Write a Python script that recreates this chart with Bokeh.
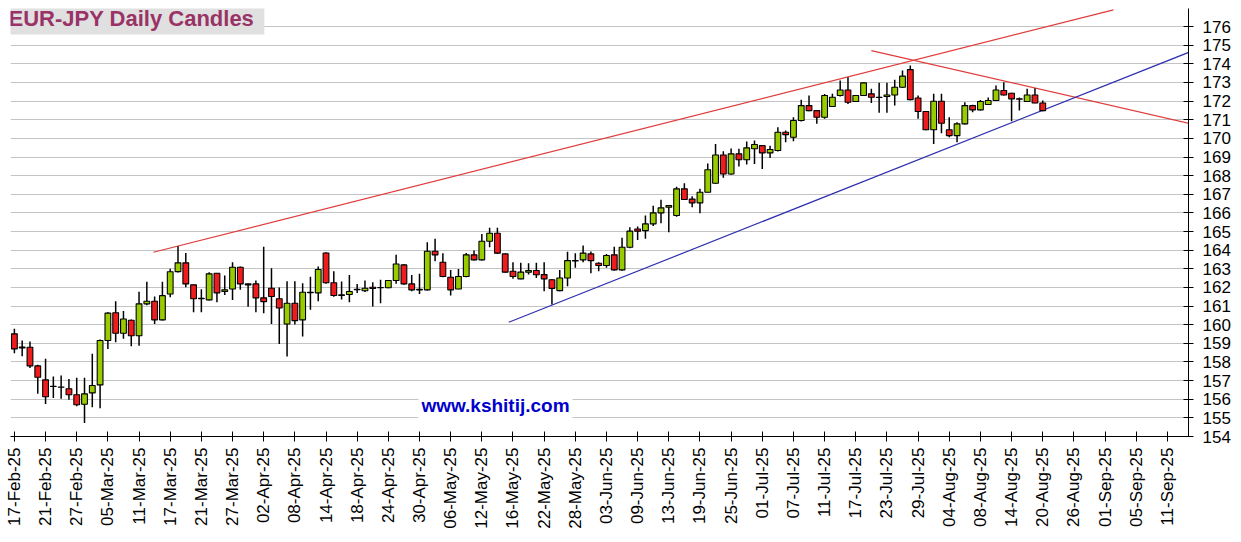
import math
from bokeh.plotting import figure
from bokeh.models import FixedTicker, Label, Range1d, ColumnDataSource
from bokeh.embed import file_html
from bokeh.resources import INLINE

# ---------------- data ----------------
tick_labels = ["17-Feb-25", "21-Feb-25", "27-Feb-25", "05-Mar-25", "11-Mar-25", "17-Mar-25",
               "21-Mar-25", "27-Mar-25", "02-Apr-25", "08-Apr-25", "14-Apr-25", "18-Apr-25",
               "24-Apr-25", "30-Apr-25", "06-May-25", "12-May-25", "16-May-25", "22-May-25",
               "28-May-25", "03-Jun-25", "09-Jun-25", "13-Jun-25", "19-Jun-25", "25-Jun-25",
               "01-Jul-25", "07-Jul-25", "11-Jul-25", "17-Jul-25", "23-Jul-25", "29-Jul-25",
               "04-Aug-25", "08-Aug-25", "14-Aug-25", "20-Aug-25", "26-Aug-25", "01-Sep-25",
               "05-Sep-25", "11-Sep-25"]
tick_every = 4  # trading days between labelled ticks

opens = [
    159.51, 158.80, 158.79, 157.79, 157.04, 156.70, 156.66, 156.56, 156.24, 155.73,
    156.34, 156.77, 159.15, 160.64, 159.54, 160.24, 159.41, 161.12, 161.26, 160.26,
    161.65, 162.85, 163.32, 162.14, 161.42, 161.33, 162.76, 161.78, 161.92, 163.08,
    162.14, 162.19, 161.44, 161.96, 161.39, 160.04, 161.15, 160.26, 161.74, 161.71,
    163.85, 162.25, 161.60, 161.62, 161.90, 161.82, 162.01, 162.00, 161.98, 162.37,
    163.21, 162.19, 161.90, 161.87, 163.94, 163.35, 162.55, 161.92, 162.59, 163.75,
    163.48, 164.48, 164.91, 163.80, 162.87, 162.46, 162.82, 162.91, 162.69, 162.41,
    161.83, 162.51, 163.44, 163.48, 163.80, 163.30, 163.18, 163.75, 162.94, 164.16,
    165.14, 165.05, 165.41, 166.00, 166.30, 165.86, 167.29, 166.74, 166.54, 167.11,
    167.59, 169.11, 168.09, 169.17, 168.85, 169.44, 169.61, 169.22, 169.35, 170.33,
    170.06, 170.96, 171.76, 171.49, 171.13, 171.71, 172.30, 172.60, 171.98, 172.30,
    172.39, 172.21, 172.25, 172.33, 172.74, 173.69, 172.17, 171.44, 170.46, 171.99,
    170.46, 170.15, 170.78, 171.76, 171.53, 171.82, 172.03, 172.57, 172.42, 172.12,
    171.98, 172.33, 171.90]

closes = [
    158.70, 158.75, 157.79, 157.18, 156.13, 156.68, 156.64, 156.24, 155.70, 156.29,
    156.74, 159.15, 160.62, 159.54, 160.31, 159.41, 161.12, 161.26, 160.26, 161.56,
    162.84, 163.32, 162.19, 161.39, 161.40, 162.73, 161.71, 161.87, 163.08, 162.19,
    162.19, 161.44, 161.24, 161.51, 160.90, 161.15, 160.22, 161.74, 161.72, 162.96,
    162.25, 161.57, 161.57, 161.78, 161.88, 161.96, 161.94, 161.98, 162.37, 163.26,
    162.19, 161.87, 161.87, 163.94, 163.75, 162.59, 161.87, 162.59, 163.75, 163.48,
    164.48, 164.91, 163.84, 162.82, 162.59, 162.82, 162.91, 162.68, 162.46, 161.95,
    162.51, 163.44, 163.42, 163.84, 163.44, 163.18, 163.71, 162.94, 164.16, 165.02,
    165.02, 165.41, 166.00, 166.27, 166.39, 167.29, 166.72, 166.54, 167.11, 168.32,
    169.11, 168.09, 169.17, 168.85, 169.49, 169.67, 169.22, 169.40, 170.33, 170.20,
    170.96, 171.76, 171.49, 171.13, 172.30, 172.21, 172.60, 171.94, 172.30, 172.98,
    172.21, 172.19, 172.33, 172.74, 173.34, 172.08, 171.44, 170.46, 171.99, 170.81,
    170.15, 170.78, 171.76, 171.53, 171.98, 172.03, 172.60, 172.33, 172.12, 172.10,
    172.33, 171.90, 171.49]

highs = [
    159.78, 159.15, 159.10, 157.85, 158.17, 157.22, 157.27, 157.09, 157.15, 157.15,
    158.44, 159.20, 160.67, 161.26, 160.73, 160.28, 161.77, 162.30, 161.52, 162.30,
    163.00, 164.21, 163.85, 162.15, 161.90, 162.82, 162.78, 162.64, 163.35, 163.12,
    162.20, 162.37, 164.19, 163.03, 162.00, 162.33, 162.33, 162.23, 162.58, 163.12,
    163.89, 162.87, 162.32, 162.67, 162.19, 162.37, 162.28, 162.41, 162.40, 163.75,
    163.25, 162.67, 162.73, 164.43, 164.61, 163.84, 162.94, 162.99, 163.85, 163.98,
    164.87, 165.20, 165.20, 163.82, 163.35, 163.32, 163.30, 163.32, 163.35, 162.45,
    162.94, 163.91, 163.84, 164.25, 163.93, 163.35, 163.80, 164.19, 164.66, 165.23,
    165.27, 165.86, 166.39, 166.70, 166.40, 167.41, 167.59, 166.90, 167.30, 168.65,
    169.70, 169.31, 169.45, 169.44, 169.83, 169.88, 169.62, 169.60, 170.60, 170.42,
    171.14, 172.07, 172.30, 171.50, 172.38, 172.40, 173.10, 173.28, 172.32, 173.00,
    172.66, 172.98, 172.98, 173.14, 173.64, 173.91, 172.30, 171.45, 172.39, 172.39,
    171.13, 170.87, 171.94, 171.80, 172.06, 172.20, 172.84, 173.01, 172.45, 172.20,
    172.66, 172.69, 172.03]

lows = [
    158.47, 158.31, 157.68, 156.29, 155.75, 156.06, 156.02, 155.97, 155.63, 154.72,
    155.57, 155.52, 158.70, 159.06, 159.24, 158.85, 158.87, 161.05, 160.04, 160.22,
    161.48, 162.80, 162.01, 160.67, 160.67, 161.30, 161.21, 161.60, 161.33, 161.87,
    160.97, 160.67, 160.62, 160.04, 158.97, 158.29, 160.01, 159.37, 160.80, 161.26,
    162.20, 161.50, 161.35, 161.21, 161.70, 161.75, 160.98, 161.15, 161.95, 162.20,
    162.14, 161.80, 161.65, 161.84, 163.41, 162.55, 161.57, 161.90, 162.55, 163.44,
    163.45, 164.16, 163.80, 162.80, 162.46, 162.44, 162.70, 162.50, 161.80, 161.08,
    161.80, 162.07, 163.05, 163.35, 162.76, 162.87, 163.05, 162.90, 162.90, 164.10,
    164.55, 164.61, 165.30, 165.45, 164.96, 165.80, 166.70, 166.30, 165.98, 167.10,
    167.55, 167.88, 168.05, 168.49, 168.60, 168.63, 168.36, 168.95, 169.30, 169.79,
    169.85, 170.90, 171.45, 170.78, 171.05, 171.70, 172.25, 171.85, 171.95, 172.28,
    171.90, 171.37, 171.37, 171.76, 172.70, 172.05, 171.05, 170.44, 169.70, 170.28,
    170.06, 169.79, 170.75, 171.40, 171.50, 171.80, 172.00, 172.30, 170.92, 171.49,
    171.95, 171.88, 171.46]

# trend lines (anchor points: bar index, price)
upper_line_x = [17.84, 141.08]
upper_line_y = [163.89, 176.90]
falling_line_x = [110.0, 151.05]
falling_line_y = [174.71, 170.78]
support_line_x = [63.46, 151.3]
support_line_y = [160.13, 174.71]

price_ticks = list(range(154, 177))

# ---------------- chart ----------------
FONT = "Liberation Sans"
idx = list(range(len(opens)))
up = [c >= o for o, c in zip(opens, closes)]
src = ColumnDataSource(dict(
    x=idx, o=opens, c=closes, h=highs, l=lows,
    top=[max(o, c) for o, c in zip(opens, closes)],
    bot=[min(o, c) for o, c in zip(opens, closes)],
    color=["#99cc00" if u else "#ee1c1c" for u in up],
))

p = figure(frame_width=1178, frame_height=428,
           x_range=Range1d(-0.5, 150.71), y_range=Range1d(154, 176.97),
           y_axis_location="right", output_backend="svg", toolbar_location=None,
           min_border_left=10, min_border_top=8, min_border_right=0, min_border_bottom=0)
p.outline_line_color = None
p.background_fill_color = "white"
p.border_fill_color = "white"

p.xgrid.visible = False
p.ygrid.ticker = FixedTicker(ticks=price_ticks)
p.ygrid.grid_line_color = "#c4c4c4"
p.ygrid.grid_line_width = 1.2

# trend lines
p.line(upper_line_x, upper_line_y, line_color="#e03c3c", line_width=1.2)
p.line(falling_line_x, falling_line_y, line_color="#e03c3c", line_width=1.2)
p.line(support_line_x, support_line_y, line_color="#3030b0", line_width=1.2)

# candles
p.segment(x0="x", y0="l", x1="x", y1="h", source=src, line_color="black", line_width=1.5)
p.vbar(x="x", width=0.74, top="top", bottom="bot", source=src,
       fill_color="color", line_color="black", line_width=1.1)

# x axis
tick_pos = [i * tick_every for i in range(len(tick_labels))]
p.xaxis.ticker = FixedTicker(ticks=tick_pos)
p.xaxis.major_label_overrides = {t: lab for t, lab in zip(tick_pos, tick_labels)}
p.xaxis.major_label_orientation = math.pi / 2
p.xaxis.major_label_text_font = FONT
p.xaxis.major_label_text_font_size = "17px"
p.xaxis.major_label_text_color = "black"
p.xaxis.major_tick_in = 5
p.xaxis.major_tick_out = 5
p.xaxis.minor_tick_line_color = None
p.xaxis.axis_line_color = "black"
p.xaxis.major_tick_line_color = "black"
p.xaxis.major_label_standoff = 6

# y axis (right)
p.yaxis.ticker = FixedTicker(ticks=price_ticks)
p.yaxis.major_label_text_font = FONT
p.yaxis.major_label_text_font_size = "17px"
p.yaxis.major_label_text_color = "black"
p.yaxis.major_tick_in = 5
p.yaxis.major_tick_out = 5
p.yaxis.minor_tick_line_color = None
p.yaxis.axis_line_color = "black"
p.yaxis.major_tick_line_color = "black"
p.yaxis.major_label_standoff = 9

# title box
p.add_layout(Label(x=-6, y=435, x_units="screen", y_units="screen",
                   text="EUR-JPY Daily  Candles", text_font=FONT, text_font_style="bold",
                   text_font_size="22px", text_color="#993366",
                   text_align="left", text_baseline="top",
                   background_fill_color="#e0e0e0", padding=4))

# watermark
p.add_layout(Label(x=485, y=31, x_units="screen", y_units="screen",
                   text="www.kshitij.com", text_font=FONT, text_font_style="bold",
                   text_font_size="19px", text_color="#0000cc",
                   text_align="center", text_baseline="middle",
                   background_fill_color="white", padding=3))

open("out.html", "w").write(file_html(p, INLINE, "EUR-JPY Daily Candles"))
